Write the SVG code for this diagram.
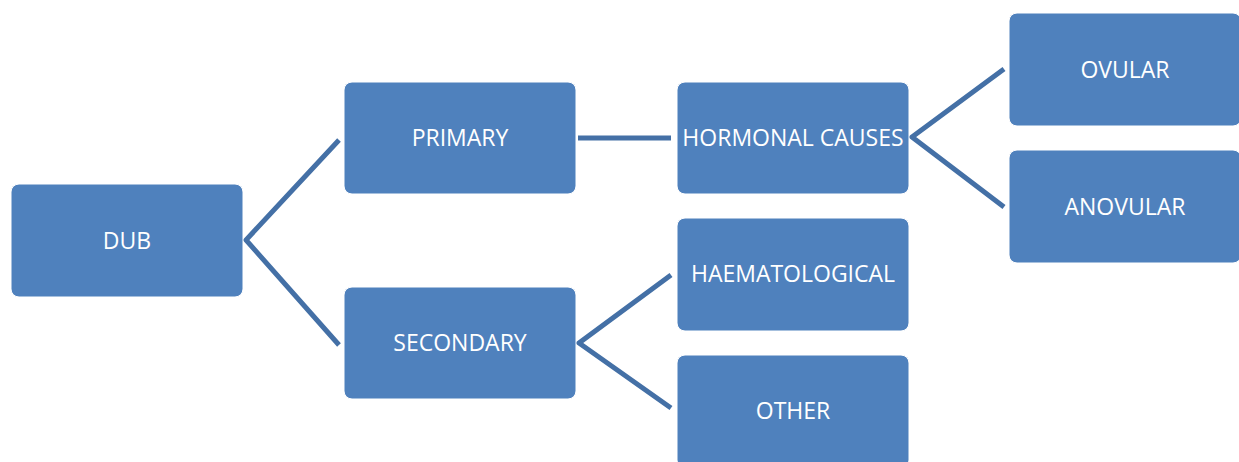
<svg xmlns="http://www.w3.org/2000/svg" width="1239" height="462" viewBox="0 0 1239 462">
<style>
.box{fill:#4f81bd;stroke:#ffffff;stroke-width:1}
.lbl{font-family:"Open Sans","Liberation Sans",sans-serif;font-size:23px;fill:#ffffff;text-anchor:middle;dominant-baseline:central}
.con{fill:none;stroke:#4470a6;stroke-width:5}
</style>
<rect width="1239" height="462" fill="#ffffff"/>
<g id="connectors">
<polyline class="con" points="339,140 246,240 339,345"/>
<line class="con" x1="578" y1="138" x2="671" y2="138"/>
<polyline class="con" points="671,275 579,343 671,408"/>
<polyline class="con" points="1004,69 912,137 1004,207"/>
</g>
<g id="dub"><rect class="box" x="11" y="184" width="232" height="113" rx="8"/><text class="lbl" x="127" y="240">DUB</text></g>
<g id="primary"><rect class="box" x="344" y="82" width="232" height="112" rx="8"/><text class="lbl" x="460" y="137">PRIMARY</text></g>
<g id="secondary"><rect class="box" x="344" y="287" width="232" height="112" rx="8"/><text class="lbl" x="460" y="342">SECONDARY</text></g>
<g id="hormonal"><rect class="box" x="677" y="82" width="232" height="112" rx="8"/><text class="lbl" x="793" y="137">HORMONAL CAUSES</text></g>
<g id="haematological"><rect class="box" x="677" y="218" width="232" height="113" rx="8"/><text class="lbl" x="793" y="273">HAEMATOLOGICAL</text></g>
<g id="other"><rect class="box" x="677" y="355" width="232" height="113" rx="8"/><text class="lbl" x="793" y="410">OTHER</text></g>
<g id="ovular"><rect class="box" x="1009" y="13" width="232" height="113" rx="8"/><text class="lbl" x="1125" y="69">OVULAR</text></g>
<g id="anovular"><rect class="box" x="1009" y="150" width="232" height="113" rx="8"/><text class="lbl" x="1125" y="206">ANOVULAR</text></g>
</svg>
